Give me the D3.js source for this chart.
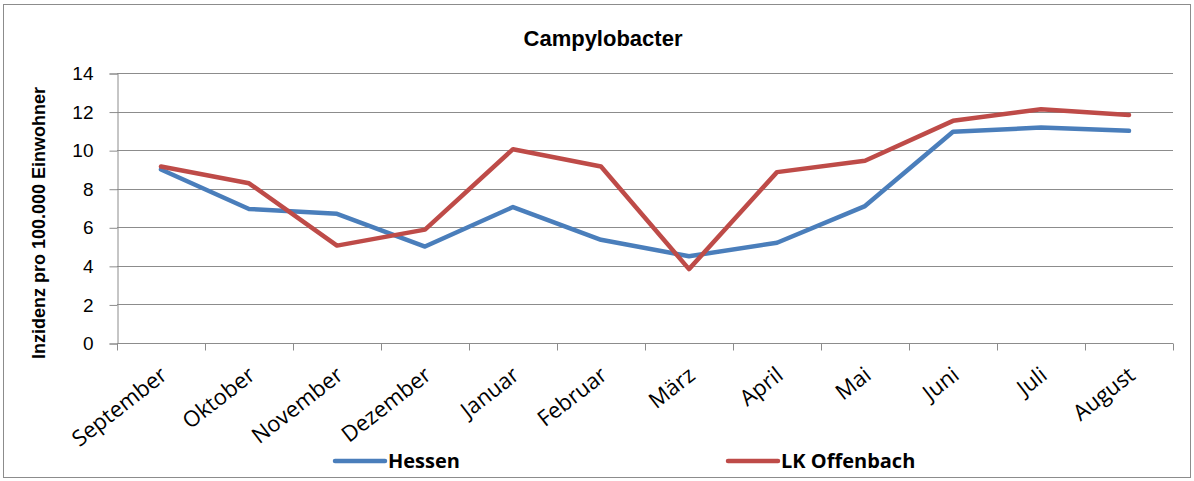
<!DOCTYPE html>
<html>
<head>
<meta charset="utf-8">
<script src="https://cdn.jsdelivr.net/npm/d3@7"></script>
<style>
  body { margin: 0; background: #fff; }
  svg { display: block; font-family: "Open Sans", Lato, sans-serif; }
</style>
</head>
<body>
<div id="chart"></div>
<script>
const WIDTH = 1194;
const HEIGHT = 481;

const MONTHS = ["September", "Oktober", "November", "Dezember", "Januar", "Februar",
  "März", "April", "Mai", "Juni", "Juli", "August"];
const HESSEN = [9.0, 6.95, 6.7, 5.0, 7.05, 5.35, 4.5, 5.2, 7.1, 10.95, 11.17, 11.0];
const OFFENBACH = [9.15, 8.28, 5.05, 5.88, 10.05, 9.15, 3.83, 8.86, 9.45, 11.52, 12.12, 11.82];
const Y_TICKS = [0, 2, 4, 6, 8, 10, 12, 14];

const SERIES = [
  { name: "Hessen", values: HESSEN, color: "#4a7ebb", legendX: 335 },
  { name: "LK Offenbach", values: OFFENBACH, color: "#be4b48", legendX: 728 },
];

const AXIS_GRAY = "#8c8c8c";
const margin = { left: 117, right: 21, top: 73, bottom: 138 };

const svg = d3.select("#chart").append("svg")
  .attr("width", WIDTH).attr("height", HEIGHT);

// outer chart border
svg.append("rect")
  .attr("x", 3.5).attr("y", 4.5)
  .attr("width", WIDTH - 7).attr("height", HEIGHT - 8)
  .attr("fill", "none").attr("stroke", AXIS_GRAY).attr("stroke-width", 1);

const x = d3.scaleBand().domain(MONTHS)
  .range([margin.left, WIDTH - margin.right]);
const y = d3.scaleLinear().domain([0, 14])
  .range([HEIGHT - margin.bottom, margin.top]);

// gridlines
svg.append("g")
  .selectAll("line")
  .data(Y_TICKS.slice(1))
  .join("line")
  .attr("x1", margin.left).attr("x2", WIDTH - margin.right)
  .attr("y1", d => Math.round(y(d)) + 0.5).attr("y2", d => Math.round(y(d)) + 0.5)
  .attr("stroke", AXIS_GRAY);

// y axis
const yAxis = svg.append("g")
  .attr("transform", `translate(${margin.left + 0.5},0.5)`)
  .call(d3.axisLeft(y).tickValues(Y_TICKS).tickSize(8).tickPadding(16));
yAxis.selectAll("text").style("font-size", "19px").attr("fill", "#000");
yAxis.select(".domain").attr("stroke", AXIS_GRAY);
yAxis.selectAll(".tick line").attr("stroke", AXIS_GRAY);

// x axis, ticks sit on band boundaries
const xAxisG = svg.append("g")
  .attr("transform", `translate(0,${Math.round(y(0)) + 0.5})`);
xAxisG.append("line")
  .attr("x1", margin.left).attr("x2", WIDTH - margin.right)
  .attr("stroke", AXIS_GRAY);
const boundaries = MONTHS.map(m => x(m)).concat([x.range()[1]]);
xAxisG.selectAll("line.tick")
  .data(boundaries)
  .join("line")
  .attr("class", "tick")
  .attr("x1", d => Math.round(d) + 0.5).attr("x2", d => Math.round(d) + 0.5)
  .attr("y1", 0).attr("y2", 7)
  .attr("stroke", AXIS_GRAY);
xAxisG.selectAll("text")
  .data(MONTHS)
  .join("text")
  .attr("transform", d => `translate(${x(d) + x.bandwidth() / 2 - 2},${22}) rotate(-38)`)
  .attr("text-anchor", "end")
  .attr("dy", "0.71em")
  .style("font-size", "22px")
  .text(d => d);

// lines
const line = d3.line()
  .x((d, i) => x(MONTHS[i]) + x.bandwidth() / 2)
  .y(d => y(d));

svg.append("g")
  .selectAll("path")
  .data(SERIES)
  .join("path")
  .attr("d", d => line(d.values))
  .attr("fill", "none")
  .attr("stroke", d => d.color)
  .attr("stroke-width", 4.5)
  .attr("stroke-linejoin", "round")
  .attr("stroke-linecap", "round");

// title
svg.append("text")
  .attr("x", 603).attr("y", 46)
  .attr("text-anchor", "middle")
  .style("font-family", "'Liberation Sans', Arial, sans-serif")
  .style("font-size", "22px").style("font-weight", "700")
  .text("Campylobacter");

// y axis label
svg.append("text")
  .attr("transform", `translate(45,223) rotate(-90)`)
  .attr("text-anchor", "middle")
  .style("font-family", "'Liberation Sans', Arial, sans-serif")
  .style("font-size", "18px").style("font-weight", "700")
  .text("Inzidenz pro 100.000 Einwohner");

// legend
const legend = svg.append("g")
  .selectAll("g")
  .data(SERIES)
  .join("g")
  .attr("transform", d => `translate(${d.legendX},461)`);
legend.append("line")
  .attr("x1", 0).attr("x2", 50)
  .attr("stroke", d => d.color)
  .attr("stroke-width", 4.5)
  .attr("stroke-linecap", "round");
legend.append("text")
  .attr("x", 53).attr("y", 7)
  .style("font-size", "20px").style("font-weight", "700")
  .text(d => d.name);
</script>
</body>
</html>
